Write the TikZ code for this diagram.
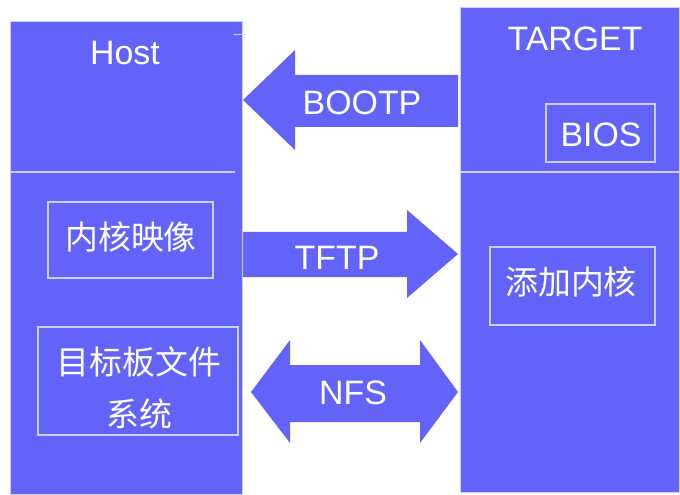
\documentclass[tikz,border=0pt]{standalone}
\usepackage{fontspec}
\setmainfont{Liberation Sans}
\newfontfamily\cjk{Noto Sans CJK SC}
\definecolor{panel}{RGB}{99,99,250}
\definecolor{edge}{RGB}{205,205,255}
\tikzset{
  x=1bp, y=-1bp,
  panelbox/.style={fill=panel, draw=edge, line width=0.8bp},
  blockarrow/.style={fill=panel, draw=none},
  framebox/.style={draw=edge, line width=1.4bp},
  divider/.style={draw=edge, line width=1.6bp},
  lbl/.style={text=white, font=\fontsize{34}{38}\selectfont, inner sep=0pt},
  cjklbl/.style={text=white, font=\cjk\fontsize{33}{52}\selectfont, inner sep=0pt, align=center},
}
\begin{document}
\begin{tikzpicture}
\useasboundingbox (0,0) rectangle (680,495);

% host and target panels
\path[panelbox] (10,21) rectangle (242,494);
\path[panelbox] (460,7) rectangle (679,492);
\draw[divider] (10,172) -- (235,172);
\draw[divider] (460,172) -- (680,172);
\draw[edge, line width=1bp] (233,35) -- (245,35);

\node[lbl] (host) at (125,53) {Host};
\node[lbl] (target) at (575,39) {TARGET};

% boxes inside the panels
\draw[framebox] (546,104) rectangle (655,162);
\node[lbl] (bios) at (601,135) {BIOS};

\draw[framebox] (48,202) rectangle (213,278);
\node[cjklbl] (kimg) at (131,237) {内核映像};

\draw[framebox] (38,327) rectangle (238,435);
\node[cjklbl] (rootfs) at (139,388) {目标板文件\\系统};

\draw[framebox] (490,247) rectangle (655,325);
\node[cjklbl] (addk) at (571,282) {添加内核};

% BOOTP: target to host
\path[blockarrow] (458,75) -- (295,75) -- (295,50) -- (243,100) -- (295,150)
  -- (295,127) -- (458,127) -- cycle;
\node[lbl] (bootp) at (362,103) {BOOTP};

% TFTP: host to target
\path[blockarrow] (243,232) -- (407,232) -- (407,210) -- (458,254) -- (407,298)
  -- (407,277) -- (243,277) -- cycle;
\node[lbl] (tftp) at (337,258) {TFTP};

% NFS: both directions
\path[blockarrow] (251,392) -- (290,340) -- (290,365) -- (420,365) -- (420,340)
  -- (458,392) -- (420,443) -- (420,422) -- (290,422) -- (290,443) -- cycle;
\node[lbl] (nfs) at (353,393) {NFS};
\end{tikzpicture}
\end{document}
